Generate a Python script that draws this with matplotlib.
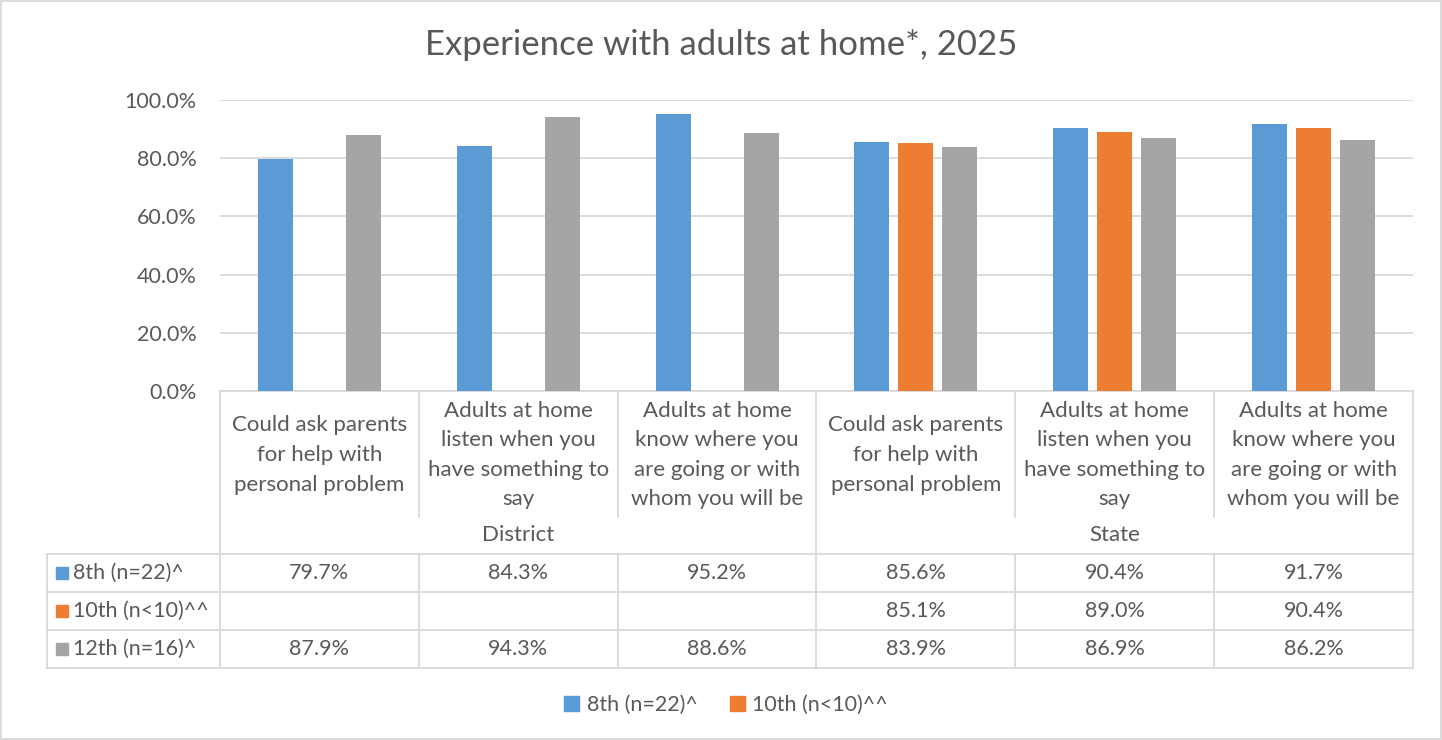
import matplotlib
matplotlib.use("Agg")
import matplotlib.pyplot as plt
import matplotlib.transforms as mtransforms
from matplotlib.patches import Rectangle
from matplotlib.lines import Line2D

# ---- data ----
categories = [
    "Could ask parents\nfor help with\npersonal problem",
    "Adults at home\nlisten when you\nhave something to\nsay",
    "Adults at home\nknow where you\nare going or with\nwhom you will be",
    "Could ask parents\nfor help with\npersonal problem",
    "Adults at home\nlisten when you\nhave something to\nsay",
    "Adults at home\nknow where you\nare going or with\nwhom you will be",
]
groups = ["District", "State"]
group_sizes = [3, 3]
series_names = ["8th (n=22)^", "10th (n<10)^^", "12th (n=16)^"]
grade8 = [79.7, 84.3, 95.2, 85.6, 90.4, 91.7]
grade10 = [None, None, None, 85.1, 89.0, 90.4]
grade12 = [87.9, 94.3, 88.6, 83.9, 86.9, 86.2]
yticks = [0, 20, 40, 60, 80, 100]
title = "Experience with adults at home*, 2025"

colors = ["#5B9BD5", "#ED7D31", "#A5A5A5"]
text_color = "#595959"
line_color = "#D9D9D9"

plt.rcParams['font.family'] = ['Lato', 'DejaVu Sans']

W, H = 1442, 740
fig = plt.figure(figsize=(W / 100, H / 100), dpi=100)

FS = 15.5      # numbers / table
FS_CAT = 16    # category labels


def fx(px):
    return px / W


def fy(py):
    return 1 - py / H


ax = fig.add_axes([fx(220), fy(391), fx(1413) - fx(220), fy(100) - fy(391)])
ax.set_xlim(-0.5, len(categories) - 0.5)
ax.set_ylim(0, 100)

series = [grade8, grade10, grade12]
offsets = [-0.221, 0.0, 0.221]
bw = 0.176
for vals, off, col in zip(series, offsets, colors):
    xs = [i + off for i, v in enumerate(vals) if v is not None]
    hs = [v for v in vals if v is not None]
    ax.bar(xs, hs, width=bw, color=col, zorder=3)

ax.set_yticks(yticks)
ax.set_yticklabels([f"{t:.1f}%" for t in yticks])
ax.tick_params(axis='y', length=0, pad=17, labelsize=FS, labelcolor=text_color)
ax.set_xticks([])
ax.grid(axis='y', color=line_color, lw=1.3, zorder=0)
for s in ['top', 'right', 'left']:
    ax.spines[s].set_visible(False)
ax.spines['bottom'].set_color(line_color)
ax.spines['bottom'].set_linewidth(1.3)

trans = mtransforms.blended_transform_factory(ax.transData, fig.transFigure)
n = len(categories)


def vline(xd, y0, y1):
    fig.add_artist(Line2D([xd, xd], [fy(y0), fy(y1)], transform=trans,
                          color=line_color, lw=1.3, zorder=1))


def hline(x0, x1, py):
    fig.add_artist(Line2D([fx(x0), fx(x1)], [fy(py), fy(py)], transform=fig.transFigure,
                          color=line_color, lw=1.3, zorder=1))


# category separators
bounds = [0]
for g in group_sizes:
    bounds.append(bounds[-1] + g)
for k in range(n + 1):
    xd = k - 0.5
    if k in bounds:
        vline(xd, 391, 668)
    else:
        vline(xd, 391, 517)
        vline(xd, 554, 668)

# table frame
for py in [554, 592, 630, 668]:
    hline(47, 1413, py)
fig.add_artist(Line2D([fx(47), fx(47)], [fy(554), fy(668)], transform=fig.transFigure,
                      color=line_color, lw=1.3))

# category labels
for i, lab in enumerate(categories):
    fig.text(i, fy(455), lab, transform=trans, ha='center', va='center',
             fontsize=FS_CAT, color=text_color, linespacing=1.6)

# group labels
start = 0
for g, sz in zip(groups, group_sizes):
    fig.text(start + (sz - 1) / 2, fy(535), g, transform=trans, ha='center',
             va='center', fontsize=FS_CAT, color=text_color)
    start += sz

# table rows
row_y = [573, 611, 649]
for r, (name, vals, col) in enumerate(zip(series_names, series, colors)):
    cy = row_y[r]
    fig.add_artist(Rectangle((fx(56), fy(cy + 6)), fx(12), fy(cy - 6) - fy(cy + 6),
                             transform=fig.transFigure, color=col))
    fig.text(fx(73), fy(cy), name, ha='left', va='center', fontsize=FS, color=text_color)
    for i, v in enumerate(vals):
        if v is not None:
            fig.text(i, fy(cy), f"{v:.1f}%", transform=trans, ha='center',
                     va='center', fontsize=FS, color=text_color)

# legend (only first two series visible, as in reference)
handles = [Rectangle((0, 0), 1, 1, color=colors[0]),
           Rectangle((0, 0), 1, 1, color=colors[1])]
fig.legend(handles, series_names[:2], loc='center', bbox_to_anchor=(fx(726), fy(705)),
           ncol=2, frameon=False, fontsize=FS, handlelength=0.7, handleheight=0.7,
           handletextpad=0.35, columnspacing=1.5, labelcolor=text_color)

fig.text(0.5, fy(45), title, ha='center', va='center', fontsize=25, color=text_color)

fig.add_artist(Rectangle((fx(1), fy(739)), fx(1440), fy(1) - fy(739),
                         transform=fig.transFigure, fill=False, edgecolor=line_color, lw=1.3))

fig.savefig("out.png", dpi=100, facecolor="white")
